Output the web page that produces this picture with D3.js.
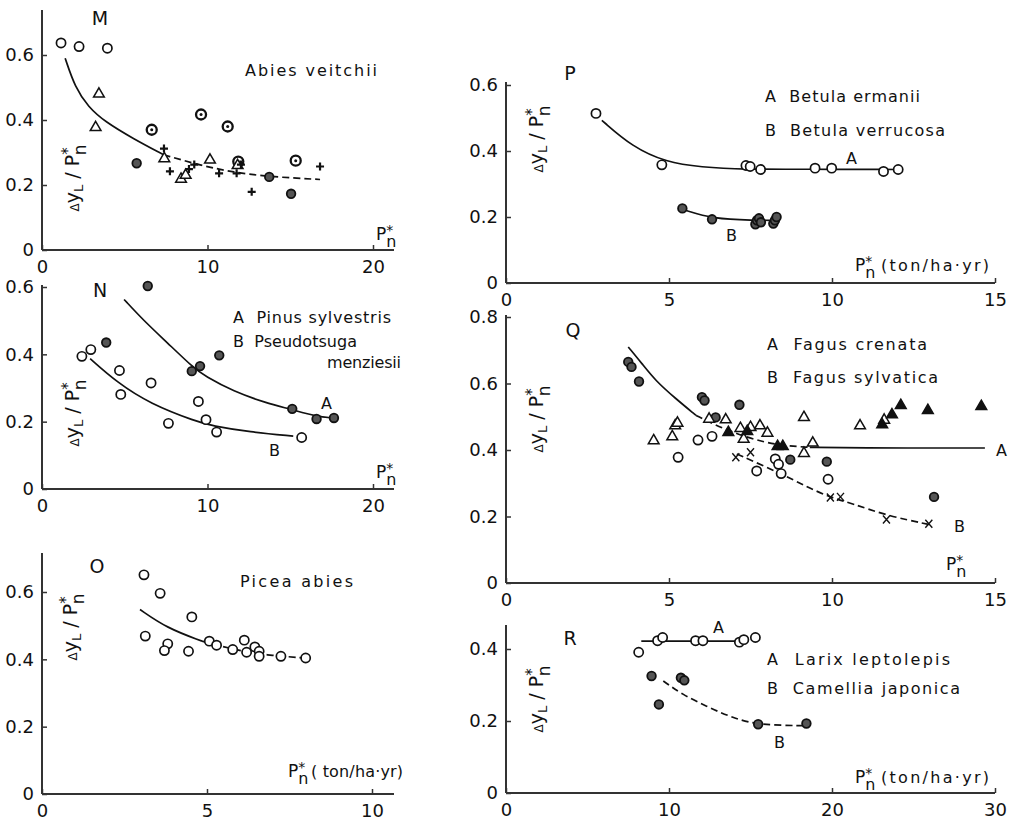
<!DOCTYPE html>
<html>
<head>
<meta charset="utf-8">
<script src="https://cdn.jsdelivr.net/npm/d3@7"></script>
<style>
  body { margin: 0; background: #fff; }
  svg text { font-family: "DejaVu Sans", sans-serif; fill: #111; white-space: pre; }
</style>
</head>
<body>
<svg id="chart" width="1022" height="821"></svg>
<script>
// ---- data (x = Pn*, y = dyL/Pn*) ----

// M  Abies veitchii
var mOpen  = [[1.15,0.637],[2.24,0.626],[3.95,0.621]];
var mRing  = [[6.63,0.37],[9.61,0.417],[11.22,0.38],[11.86,0.272],[15.33,0.275]];
var mDot   = [[5.72,0.267],[13.73,0.225],[15.05,0.173]];
var mTri   = [[3.44,0.48],[3.24,0.377],[7.39,0.281],[8.4,0.218],[8.68,0.23],[10.15,0.277],[11.82,0.26]];
var mPlus  = [[7.37,0.312],[7.73,0.242],[8.88,0.249],[9.2,0.263],[10.7,0.236],[11.76,0.236],[12.02,0.263],[12.67,0.179],[16.8,0.257]];
var mCurveX = [1.4,2.0,2.8,3.8,5.5,7.35,9.6,11.6,13.6,16.8];
var mCurveY = [0.59,0.5,0.44,0.395,0.343,0.293,0.26,0.239,0.226,0.217];

// N  Pinus sylvestris (A), Pseudotsuga menziesii (B)
var nA = [[3.88,0.435],[6.39,0.603],[9.05,0.35],[9.55,0.365],[10.71,0.397],[15.12,0.238],[16.59,0.208],[17.64,0.211]];
var nB = [[2.41,0.394],[2.95,0.414],[4.68,0.352],[4.76,0.281],[6.59,0.315],[7.64,0.195],[9.45,0.26],[9.91,0.206],[10.55,0.169],[15.69,0.153]];
var nACurveX = [4.96,6.13,7.54,9.15,9.85,11.56,13.57,14.97,16.6,17.6];
var nACurveY = [0.563,0.501,0.436,0.36,0.335,0.29,0.255,0.238,0.215,0.211];
var nBCurveX = [2.91,4.52,6.53,9.35,10.25,12.56,15.18];
var nBCurveY = [0.387,0.317,0.253,0.2,0.188,0.169,0.157];

// O  Picea abies
var oOpen = [[3.09,0.651],[3.58,0.596],[4.54,0.526],[3.13,0.469],[3.81,0.446],[3.71,0.426],[4.44,0.424],
             [5.07,0.454],[5.29,0.442],[5.78,0.429],[6.13,0.457],[6.2,0.421],[6.45,0.437],[6.58,0.424],
             [6.58,0.409],[7.24,0.409],[7.99,0.404]];
var oCurveX = [2.97,3.78,4.85,5.8,6.8,8.0];
var oCurveY = [0.548,0.493,0.454,0.429,0.412,0.404];

// P  Betula ermanii (A), Betula verrucosa (B)
var pA = [[2.76,0.514],[4.78,0.358],[7.36,0.356],[7.49,0.353],[7.81,0.344],[9.48,0.348],[9.99,0.348],[11.58,0.338],[12.03,0.344]];
var pB = [[5.41,0.226],[6.32,0.193],[7.65,0.178],[7.7,0.19],[7.76,0.196],[7.82,0.184],[8.2,0.18],[8.25,0.19],[8.3,0.2]];
var pACurveX = [2.94,3.88,4.92,5.96,7.36,9.0,12.0];
var pACurveY = [0.493,0.412,0.366,0.351,0.344,0.345,0.344];
var pBCurveX = [5.45,6.35,7.6,8.25];
var pBCurveY = [0.222,0.194,0.19,0.19];

// Q  Fagus crenata (A), Fagus sylvatica (B)
var qDot   = [[3.75,0.665],[3.85,0.65],[4.08,0.606],[6.01,0.559],[6.09,0.549],[6.43,0.498],[7.16,0.536],[8.72,0.371],[9.84,0.365],[13.13,0.259]];
var qOpen  = [[5.28,0.378],[5.89,0.43],[6.32,0.441],[7.69,0.337],[8.26,0.373],[8.36,0.357],[8.44,0.329],[9.88,0.312]];
var qTri   = [[4.53,0.428],[5.1,0.44],[5.19,0.473],[5.26,0.481],[6.23,0.493],[6.74,0.491],[7.19,0.465],[7.29,0.433],
              [7.5,0.468],[7.79,0.473],[8.02,0.451],[9.14,0.498],[9.14,0.39],[9.41,0.421],[10.86,0.473],[11.6,0.49]];
var qTriF  = [[6.82,0.453],[7.4,0.456],[8.33,0.411],[8.49,0.411],[11.54,0.476],[11.84,0.506],[12.11,0.534],[12.94,0.519],[14.58,0.531]];
var qCross = [[7.05,0.378],[7.5,0.393],[9.95,0.257],[10.26,0.259],[11.67,0.191],[12.97,0.178]];
var qACurveX = [3.75,4.17,4.58,5.21,5.83,6.35,7.08,7.92,8.54,9.32,10.63,14.69];
var qACurveY = [0.71,0.66,0.609,0.554,0.504,0.478,0.448,0.423,0.413,0.408,0.406,0.406];
var qBCurveX = [7.08,8.44,9.17,9.95,10.63,11.67,12.97];
var qBCurveY = [0.388,0.329,0.292,0.257,0.239,0.203,0.176];

// R  Larix leptolepis (A), Camellia japonica (B)
var rA = [[8.14,0.391],[9.3,0.423],[9.61,0.432],[11.63,0.423],[12.08,0.423],[14.32,0.419],[14.59,0.426],[15.3,0.432]];
var rB = [[8.93,0.325],[9.38,0.246],[10.73,0.32],[10.94,0.313],[15.47,0.191],[18.43,0.193]];
var rACurveX = [8.3,14.5];
var rACurveY = [0.422,0.422];
var rBCurveX = [9.65,10.8,12.46,14.12,15.57,18.27];
var rBCurveY = [0.311,0.274,0.237,0.205,0.189,0.187];

// ---- drawing ----
var svg = d3.select("#chart");
var ink = "#111";

function pairs(xs, ys) { return xs.map(function(v, i) { return [v, ys[i]]; }); }

function makePanel(o) {
    var g = svg.append("g");
    var x = d3.scaleLinear().domain(o.xd).range(o.xr);
    var y = d3.scaleLinear().domain(o.yd).range(o.yr);
    var x0 = o.xr[0], y0 = o.yr[0];

    // axis lines, a little past the last tick like the original
    g.append("line").attr("x1", x0).attr("x2", o.xEnd).attr("y1", y0).attr("y2", y0)
        .attr("stroke", "#333").attr("stroke-width", 2);
    g.append("line").attr("x1", x0).attr("x2", x0).attr("y1", y0).attr("y2", o.yTop)
        .attr("stroke", "#333").attr("stroke-width", 2);

    var fmt = function(d) { return d === 0 ? "0" : d3.format(".1f")(d); };
    var ax = g.append("g").attr("transform", "translate(0," + y0 + ")")
        .call(d3.axisBottom(x).tickValues(o.xt).tickSize(-5).tickPadding(10).tickFormat(d3.format("d")));
    var ay = g.append("g").attr("transform", "translate(" + x0 + ",0)")
        .call(d3.axisLeft(y).tickValues(o.yt).tickSize(-5).tickPadding(8).tickFormat(fmt));
    [ax, ay].forEach(function(a) {
        a.select(".domain").remove();
        a.selectAll("line").attr("stroke", "#333").attr("stroke-width", 1.5);
        a.selectAll("text").style("font-size", "18px").attr("fill", ink)
            .style("font-family", "'DejaVu Sans', sans-serif");
    });
    return { g: g, x: x, y: y };
}

function curve(p, xs, ys, dashed) {
    var line = d3.line().x(function(d) { return p.x(d[0]); }).y(function(d) { return p.y(d[1]); })
        .curve(d3.curveBasis);
    p.g.append("path").attr("d", line(pairs(xs, ys))).attr("fill", "none")
        .attr("stroke", ink).attr("stroke-width", 1.7)
        .attr("stroke-dasharray", dashed ? "7,4" : null);
}

var triPath = d3.symbol(d3.symbolTriangle, 50)();

function marks(p, pts, kind) {
    var s = p.g.append("g").selectAll(null).data(pts).enter();
    var tr = function(d) { return "translate(" + p.x(d[0]) + "," + p.y(d[1]) + ")"; };
    if (kind === "open") {
        s.append("circle").attr("transform", tr).attr("r", 4.6)
            .attr("fill", "#fff").attr("stroke", ink).attr("stroke-width", 1.7);
    } else if (kind === "ring") {
        s.append("circle").attr("transform", tr).attr("r", 5)
            .attr("fill", "#fff").attr("stroke", ink).attr("stroke-width", 2.3);
        s.append("circle").attr("transform", tr).attr("r", 1.5).attr("fill", ink);
    } else if (kind === "dot") {
        s.append("circle").attr("transform", tr).attr("r", 4.3)
            .attr("fill", "#555").attr("stroke", ink).attr("stroke-width", 1.8);
    } else if (kind === "tri" || kind === "triF") {
        s.append("path").attr("transform", tr).attr("d", triPath)
            .attr("fill", kind === "tri" ? "#fff" : ink).attr("stroke", ink).attr("stroke-width", 1.5);
    } else if (kind === "plus") {
        s.append("path").attr("transform", tr).attr("d", "M-4,0H4M0,-4V4")
            .attr("stroke", ink).attr("stroke-width", 2.2);
    } else if (kind === "x") {
        s.append("path").attr("transform", tr).attr("d", "M-3.5,-4L3.5,4M-3.5,4L3.5,-4")
            .attr("stroke", ink).attr("stroke-width", 1.4);
    }
}

// legend / curve labels; width stretches the letter spacing like the original lettering
function label(p, x, y, str, size, width) {
    var t = p.g.append("text").attr("x", x).attr("y", y).text(str)
        .style("font-size", (size || 16) + "px");
    if (width) t.attr("textLength", width).attr("lengthAdjust", "spacing");
}

// P*n with optional unit text
function pnLabel(p, x, y, rest, restX, restW) {
    var t = p.g.append("text").attr("x", x).attr("y", y).style("font-size", "17px");
    t.append("tspan").text("P");
    t.append("tspan").attr("dy", -5).style("font-size", "14px").text("*");
    t.append("tspan").attr("dx", -7).attr("dy", 12).style("font-size", "16px").text("n");
    if (rest) {
        p.g.append("text").attr("x", restX).attr("y", y).style("font-size", "16px")
            .attr("textLength", restW).attr("lengthAdjust", "spacing").text(rest);
    }
}

// rotated  ΔyL / P*n
function yLabel(p, x, y) {
    var t = p.g.append("text").attr("transform", "translate(" + x + "," + y + ") rotate(-90)")
        .attr("text-anchor", "middle").style("font-size", "19px");
    t.append("tspan").style("font-size", "12px").text("Δ");
    t.append("tspan").text("y");
    t.append("tspan").attr("dy", 4).style("font-size", "13px").text("L");
    t.append("tspan").attr("dy", -4).text(" / P");
    t.append("tspan").attr("dy", -6).style("font-size", "15px").text("*");
    t.append("tspan").attr("dx", -8).attr("dy", 13).style("font-size", "17px").text("n");
}

function letter(p, x, y, str) {
    p.g.append("text").attr("x", x).attr("y", y).attr("text-anchor", "middle")
        .style("font-size", "19px").text(str);
}

// ---------- M ----------
var M = makePanel({ xd: [0, 20], xr: [42, 373], yd: [0, 0.6], yr: [250, 55],
    xt: [0, 10, 20], yt: [0, 0.2, 0.4, 0.6], xEnd: 394, yTop: 10 });
curve(M, mCurveX.slice(0, 6), mCurveY.slice(0, 6), false);
curve(M, mCurveX.slice(5), mCurveY.slice(5), true);
marks(M, mOpen, "open");
marks(M, mRing, "ring");
marks(M, mDot, "dot");
marks(M, mTri, "tri");
marks(M, mPlus, "plus");
letter(M, 100, 25, "M");
label(M, 245, 76, "Abies veitchii", 16, 132);
yLabel(M, 79, 178);
pnLabel(M, 376, 240);

// ---------- N ----------
var N = makePanel({ xd: [0, 20], xr: [42, 373], yd: [0, 0.6], yr: [489, 287],
    xt: [0, 10, 20], yt: [0, 0.2, 0.4, 0.6], xEnd: 394, yTop: 285 });
curve(N, nACurveX, nACurveY, false);
curve(N, nBCurveX, nBCurveY, false);
marks(N, nB, "open");
marks(N, nA, "dot");
letter(N, 100, 297, "N");
label(N, 233, 323, "A  Pinus sylvestris", 16, 158);
label(N, 233, 347, "B  Pseudotsuga", 16, 124);
label(N, 327, 368, "menziesii", 16, 74);
label(N, 321, 409, "A", 16);
label(N, 269, 456, "B", 16);
yLabel(N, 79, 413);
pnLabel(N, 376, 478);

// ---------- O ----------
var O = makePanel({ xd: [0, 10], xr: [42, 372], yd: [0, 0.6], yr: [794, 592],
    xt: [0, 5, 10], yt: [0, 0.2, 0.4, 0.6], xEnd: 394, yTop: 553 });
curve(O, oCurveX.slice(0, 3), oCurveY.slice(0, 3), false);
curve(O, oCurveX.slice(2), oCurveY.slice(2), true);
marks(O, oOpen, "open");
letter(O, 97, 573, "O");
label(O, 240, 587, "Picea abies", 16, 113);
yLabel(O, 77, 627);
pnLabel(O, 288, 777, "( ton/ha·yr)", 311, 92);

// ---------- P ----------
var P = makePanel({ xd: [0, 15], xr: [506, 995], yd: [0, 0.6], yr: [283, 85],
    xt: [0, 5, 10, 15], yt: [0, 0.2, 0.4, 0.6], xEnd: 995, yTop: 82 });
curve(P, pACurveX, pACurveY, false);
curve(P, pBCurveX, pBCurveY, false);
marks(P, pA, "open");
marks(P, pB, "dot");
letter(P, 570, 80, "P");
label(P, 765, 102, "A  Betula ermanii", 16, 155);
label(P, 765, 136, "B  Betula verrucosa", 16, 180);
label(P, 846, 164, "A", 16);
label(P, 726, 241, "B", 16);
yLabel(P, 543, 139);
pnLabel(P, 855, 271, "(ton/ha·yr)", 881, 108);

// ---------- Q ----------
var Q = makePanel({ xd: [0, 15], xr: [506, 995], yd: [0, 0.8], yr: [583, 317],
    xt: [0, 5, 10, 15], yt: [0, 0.2, 0.4, 0.6, 0.8], xEnd: 995, yTop: 315 });
curve(Q, qACurveX.slice(0, 5), qACurveY.slice(0, 5), false);
curve(Q, qACurveX.slice(4, 10), qACurveY.slice(4, 10), true);
curve(Q, qACurveX.slice(9), qACurveY.slice(9), false);
curve(Q, qBCurveX, qBCurveY, true);
marks(Q, qOpen, "open");
marks(Q, qDot, "dot");
marks(Q, qTri, "tri");
marks(Q, qTriF, "triF");
marks(Q, qCross, "x");
letter(Q, 573, 337, "Q");
label(Q, 767, 350, "A  Fagus crenata", 16, 160);
label(Q, 767, 383, "B  Fagus sylvatica", 16, 171);
label(Q, 996, 456, "A", 16);
label(Q, 954, 532, "B", 16);
yLabel(Q, 543, 419);
pnLabel(Q, 946, 570);

// ---------- R ----------
var R = makePanel({ xd: [0, 30], xr: [506, 995], yd: [0, 0.4], yr: [793, 649],
    xt: [0, 10, 20, 30], yt: [0, 0.2, 0.4], xEnd: 995, yTop: 625 });
curve(R, rACurveX, rACurveY, false);
curve(R, rBCurveX, rBCurveY, true);
marks(R, rA, "open");
marks(R, rB, "dot");
letter(R, 570, 645, "R");
label(R, 767, 665, "A  Larix leptolepis", 16, 183);
label(R, 767, 694, "B  Camellia japonica", 16, 193);
label(R, 713, 633, "A", 16);
label(R, 774, 748, "B", 16);
yLabel(R, 543, 699);
pnLabel(R, 855, 783, "(ton/ha·yr)", 881, 108);
</script>
</body>
</html>
